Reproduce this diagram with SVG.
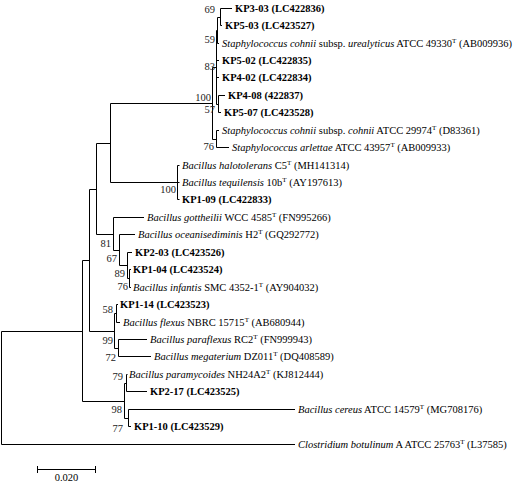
<svg xmlns="http://www.w3.org/2000/svg" width="514" height="483" viewBox="0 0 514 483">
<style>
.t{font-family:"Liberation Serif","Times New Roman",serif;font-size:10.5px;fill:#000}
.b{font-weight:bold}
.i{font-style:italic}
.s{font-size:7px}
.bs{font-family:"Liberation Serif","Times New Roman",serif;font-size:10.5px;fill:#222;text-anchor:end}
.br{fill:none;stroke:#000;stroke-width:1}
</style>
<rect width="514" height="483" fill="#fff"/>
<g id="connectors" class="br">
<path d="M1.5,331.5V444.5M1.5,331.5H82.5M1.5,444.5H295"/>
<path d="M82.5,260.5V401.5M82.5,260.5H89.5M82.5,401.5H124.5"/>
<path d="M89.5,189.5V331.5M89.5,189.5H96.5M89.5,331.5H114.5"/>
<path d="M96.5,143.5V234.5M96.5,143.5H110.5M96.5,234.5H113.5"/>
<path d="M110.5,103.5V182.5M110.5,103.5H212.5M110.5,182.5H177.5"/>
<path d="M212.5,67.5V139.5M212.5,67.5H216.5M212.5,139.5H216.5"/>
<path d="M216.5,30.5V104.5M216.5,30.5H217.5M216.5,60.5H219M216.5,77.5H219M216.5,104.5H218.5"/>
<path d="M217.5,17.5V43.5M217.5,17.5H220.5M217.5,43.5H219"/>
<path d="M220.5,8.5V25.5M220.5,8.5H232M220.5,25.5H222"/>
<path d="M218.5,95.5V112.5M218.5,95.5H225M218.5,112.5H221"/>
<path d="M216.5,130.5V147.5M216.5,130.5H219M216.5,147.5H229"/>
<path d="M177.5,165.5V199.5M177.5,165.5H179.5M177.5,182.5H179.5M177.5,199.5H179.5"/>
<path d="M113.5,217.5V250.5M113.5,217.5H144M113.5,250.5H119.5"/>
<path d="M119.5,234.5V265.5M119.5,234.5H135M119.5,265.5H127.5"/>
<path d="M127.5,252.5V278.5M127.5,252.5H132M127.5,278.5H129.5"/>
<path d="M129.5,269.5V287.5M129.5,269.5H131M129.5,287.5H131"/>
<path d="M114.5,313.5V348.5M114.5,313.5H116.5M114.5,348.5H118.5"/>
<path d="M116.5,304.5V322.5M116.5,304.5H118M116.5,322.5H120"/>
<path d="M118.5,339.5V356.5M118.5,339.5H147M118.5,356.5H151"/>
<path d="M124.5,383.5V418.5M124.5,383.5H126.5M124.5,418.5H128.5"/>
<path d="M126.5,374.5V391.5M126.5,374.5H127.5M126.5,391.5H147"/>
<path d="M128.5,409.5V426.5M128.5,409.5H295M128.5,426.5H131"/>
</g>
<g id="bootstrap">
<text class="bs" x="215" y="13">69</text>
<text class="bs" x="215" y="43">59</text>
<text class="bs" x="215" y="70">83</text>
<text class="bs" x="211" y="101">100</text>
<text class="bs" x="215" y="113">57</text>
<text class="bs" x="214" y="150">76</text>
<text class="bs" x="176" y="193">100</text>
<text class="bs" x="111" y="247">81</text>
<text class="bs" x="117" y="262">67</text>
<text class="bs" x="125" y="277">89</text>
<text class="bs" x="128" y="290">76</text>
<text class="bs" x="113" y="313">58</text>
<text class="bs" x="113" y="344">99</text>
<text class="bs" x="116" y="361">72</text>
<text class="bs" x="123" y="380">79</text>
<text class="bs" x="122" y="413">98</text>
<text class="bs" x="123" y="432">77</text>
</g>
<g id="n01"><text class="t b" x="235" y="12.3">KP3-03 (LC422836)</text></g>
<g id="n02"><text class="t b" x="225" y="29.3">KP5-03 (LC423527)</text></g>
<g id="n03"><text class="t" x="222" y="47.3"><tspan class="i">Staphylococcus cohnii</tspan> subsp. <tspan class="i">urealyticus</tspan> ATCC 49330<tspan class="s" dy="-4">T</tspan><tspan dy="4"> (AB009936)</tspan></text></g>
<g id="n04"><text class="t b" x="222" y="64.3">KP5-02 (LC422835)</text></g>
<g id="n05"><text class="t b" x="222" y="81.3">KP4-02 (LC422834)</text></g>
<g id="n06"><text class="t b" x="228" y="99.3">KP4-08 (422837)</text></g>
<g id="n07"><text class="t b" x="224" y="116.3">KP5-07 (LC423528)</text></g>
<g id="n08"><text class="t" x="222" y="134.3"><tspan class="i">Staphylococcus cohnii</tspan> subsp. <tspan class="i">cohnii</tspan> ATCC 29974<tspan class="s" dy="-4">T</tspan><tspan dy="4"> (D83361)</tspan></text></g>
<g id="n09"><text class="t" x="232" y="151.3"><tspan class="i">Staphylococcus arlettae</tspan> ATCC 43957<tspan class="s" dy="-4">T</tspan><tspan dy="4"> (AB009933)</tspan></text></g>
<g id="n10"><text class="t" x="182" y="169.3"><tspan class="i">Bacillus halotolerans</tspan> C5<tspan class="s" dy="-4">T</tspan><tspan dy="4"> (MH141314)</tspan></text></g>
<g id="n11"><text class="t" x="182" y="186.3"><tspan class="i">Bacillus tequilensis</tspan> 10b<tspan class="s" dy="-4">T</tspan><tspan dy="4"> (AY197613)</tspan></text></g>
<g id="n12"><text class="t b" x="182" y="203.3">KP1-09 (LC422833)</text></g>
<g id="n13"><text class="t" x="147" y="221.3"><tspan class="i">Bacillus gottheilii</tspan> WCC 4585<tspan class="s" dy="-4">T</tspan><tspan dy="4"> (FN995266)</tspan></text></g>
<g id="n14"><text class="t" x="138" y="238.3"><tspan class="i">Bacillus oceanisediminis</tspan> H2<tspan class="s" dy="-4">T</tspan><tspan dy="4"> (GQ292772)</tspan></text></g>
<g id="n15"><text class="t b" x="135" y="256.3">KP2-03 (LC423526)</text></g>
<g id="n16"><text class="t b" x="133" y="273.3">KP1-04 (LC423524)</text></g>
<g id="n17"><text class="t" x="133" y="291.3"><tspan class="i">Bacillus infantis</tspan> SMC 4352-1<tspan class="s" dy="-4">T</tspan><tspan dy="4"> (AY904032)</tspan></text></g>
<g id="n18"><text class="t b" x="120" y="308.3">KP1-14 (LC423523)</text></g>
<g id="n19"><text class="t" x="123" y="326.3"><tspan class="i">Bacillus flexus</tspan> NBRC 15715<tspan class="s" dy="-4">T</tspan><tspan dy="4"> (AB680944)</tspan></text></g>
<g id="n20"><text class="t" x="150" y="343.3"><tspan class="i">Bacillus paraflexus</tspan> RC2<tspan class="s" dy="-4">T</tspan><tspan dy="4"> (FN999943)</tspan></text></g>
<g id="n21"><text class="t" x="154" y="360.3"><tspan class="i">Bacillus megaterium</tspan> DZ011<tspan class="s" dy="-4">T</tspan><tspan dy="4"> (DQ408589)</tspan></text></g>
<g id="n22"><text class="t" x="129" y="378.3"><tspan class="i">Bacillus paramycoides</tspan> NH24A2<tspan class="s" dy="-4">T</tspan><tspan dy="4"> (KJ812444)</tspan></text></g>
<g id="n23"><text class="t b" x="150" y="395.3">KP2-17 (LC423525)</text></g>
<g id="n24"><text class="t" x="298" y="413.3"><tspan class="i">Bacillus cereus</tspan> ATCC 14579<tspan class="s" dy="-4">T</tspan><tspan dy="4"> (MG708176)</tspan></text></g>
<g id="n25"><text class="t b" x="134" y="430.3">KP1-10 (LC423529)</text></g>
<g id="n26"><text class="t" x="298" y="448.3"><tspan class="i">Clostridium botulinum</tspan> A ATCC 25763<tspan class="s" dy="-4">T</tspan><tspan dy="4"> (L37585)</tspan></text></g>
<g id="scalebar">
<path class="br" d="M37.5,469.5H95.5M37.5,466V473M95.5,466V473"/>
<text class="t" x="66.5" y="481" text-anchor="middle">0.020</text>
</g>
</svg>
